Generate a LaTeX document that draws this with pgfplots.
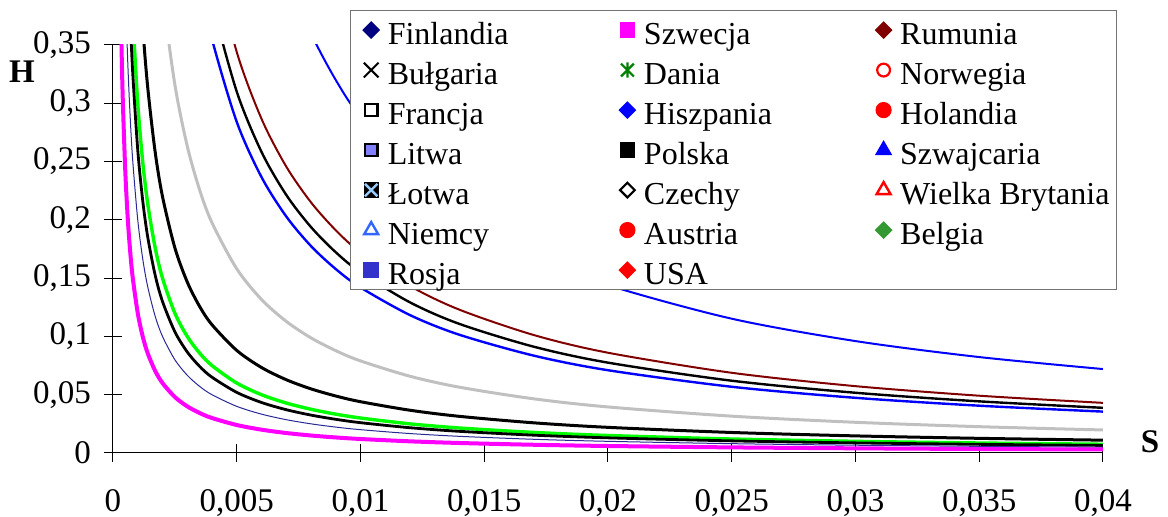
\documentclass[border=0pt]{standalone}
\usepackage{fontspec}
\setmainfont{Liberation Serif}
\usepackage{pgfplots}
\usepackage{pgfplotstable}
\pgfplotsset{compat=1.18}
\definecolor{cnavy}{RGB}{0,0,128}
\definecolor{cnavyline}{RGB}{40,40,150}
\definecolor{cmag}{RGB}{255,0,255}
\definecolor{cbrown}{RGB}{128,0,0}
\definecolor{cgreen}{RGB}{0,128,0}
\definecolor{clgreen}{RGB}{0,255,0}
\definecolor{cblue}{RGB}{0,0,255}
\definecolor{cred}{RGB}{255,0,0}
\definecolor{clilac}{RGB}{128,128,255}
\definecolor{cskyx}{RGB}{153,204,255}
\definecolor{cniem}{RGB}{51,102,255}
\definecolor{cbelg}{RGB}{51,153,51}
\definecolor{cros}{RGB}{51,51,204}
\definecolor{cgray}{RGB}{192,192,192}
\pgfplotsset{legmark/.style={only marks, legend image code/.code={\path (-3.5pt,0pt) (11pt,0pt); \draw[mark repeat=2,mark phase=2,##1] plot coordinates {(0pt,0pt)(4.5pt,0pt)(9pt,0pt)};}},
  dia/.style={legmark, mark=square*, mark options={rotate=45, mark size=2.85pt}}}
\pgfplotstableread{
S h1 h2 h3 h4 h5 h6 h7 h8 h9 h10
0.0003 0.4 0.6667 0.8667 1.0 1.467 2.633 4.733 5.167 5.733 9.6
0.00035 0.3429 0.5714 0.7429 0.8571 1.257 2.257 4.057 4.429 4.914 8.229
0.0004 0.3 0.5 0.65 0.75 1.1 1.975 3.55 3.875 4.3 7.2
0.0005 0.24 0.4 0.52 0.6 0.88 1.58 2.84 3.1 3.44 5.76
0.0006 0.2 0.3333 0.4333 0.5 0.7333 1.317 2.367 2.583 2.867 4.8
0.0007 0.1714 0.2857 0.3714 0.4286 0.6286 1.129 2.029 2.214 2.457 4.114
0.0008 0.15 0.25 0.325 0.375 0.55 0.9875 1.775 1.9375 2.15 3.6
0.001 0.12 0.2 0.26 0.3 0.44 0.79 1.42 1.55 1.72 2.88
0.0012 0.1 0.1667 0.2167 0.25 0.3667 0.6583 1.183 1.292 1.433 2.4
0.0014 0.08571 0.1429 0.1857 0.2143 0.3143 0.5643 1.014 1.107 1.229 2.057
0.0017 0.07059 0.1176 0.1529 0.1765 0.2588 0.4647 0.8353 0.9118 1.012 1.694
0.002 0.06 0.1 0.13 0.15 0.22 0.395 0.71 0.775 0.86 1.44
0.0025 0.048 0.08 0.104 0.12 0.176 0.316 0.568 0.62 0.688 1.152
0.003 0.04 0.06667 0.08667 0.1 0.1467 0.2633 0.4733 0.5167 0.5733 0.96
0.0035 0.03429 0.05714 0.07429 0.08571 0.1257 0.2257 0.4057 0.4429 0.4914 0.8229
0.004 0.03 0.05 0.065 0.075 0.11 0.1975 0.355 0.3875 0.43 0.72
0.005 0.024 0.04 0.052 0.06 0.088 0.158 0.284 0.31 0.344 0.576
0.006 0.02 0.03333 0.04333 0.05 0.07333 0.1317 0.2367 0.2583 0.2867 0.48
0.007 0.01714 0.02857 0.03714 0.04286 0.06286 0.1129 0.2029 0.2214 0.2457 0.4114
0.008 0.015 0.025 0.0325 0.0375 0.055 0.09875 0.1775 0.1938 0.215 0.36
0.009 0.01333 0.02222 0.02889 0.03333 0.04889 0.08778 0.1578 0.1722 0.1911 0.32
0.01 0.012 0.02 0.026 0.03 0.044 0.079 0.142 0.155 0.172 0.288
0.012 0.01 0.01667 0.02167 0.025 0.03667 0.06583 0.1183 0.1292 0.1433 0.24
0.014 0.008571 0.01429 0.01857 0.02143 0.03143 0.05643 0.1014 0.1107 0.1229 0.2057
0.017 0.007059 0.01176 0.01529 0.01765 0.02588 0.04647 0.08353 0.09118 0.1012 0.1694
0.02 0.006 0.01 0.013 0.015 0.022 0.0395 0.071 0.0775 0.086 0.144
0.025 0.0048 0.008 0.0104 0.012 0.0176 0.0316 0.0568 0.062 0.0688 0.1152
0.03 0.004 0.006667 0.008667 0.01 0.01467 0.02633 0.04733 0.05167 0.05733 0.096
0.035 0.003429 0.005714 0.007429 0.008571 0.01257 0.02257 0.04057 0.04429 0.04914 0.08229
0.04 0.003 0.005 0.0065 0.0075 0.011 0.01975 0.0355 0.03875 0.043 0.072
}\curves
\begin{document}
\begin{tikzpicture}
\begin{axis}[
  width=495pt, height=204pt, scale only axis,
  xmin=0, xmax=0.04, ymin=0, ymax=0.35,
  axis lines*=left,
  axis line style={black, line width=0.5pt},
  tick align=center, major tick length=9pt,
  tick style={black, line width=0.5pt},
  xtick={0,0.005,0.01,0.015,0.02,0.025,0.03,0.035,0.04},
  ytick={0,0.05,0.1,0.15,0.2,0.25,0.3,0.35},
  scaled x ticks=false, scaled y ticks=false,
  /pgf/number format/.cd, use comma, fixed, precision=3, assume math mode=true, /pgfplots/.cd,
  tick label style={font=\fontsize{16.5}{19}\selectfont},
  xticklabel style={yshift=-10pt},
  yticklabel style={xshift=-3pt},
  xlabel={S}, ylabel={H},
  label style={font=\bfseries\fontsize{16.5}{19}\selectfont},
  xlabel style={at={(axis description cs:1.0475,0.027)}, anchor=center},
  ylabel style={at={(axis description cs:-0.0919,0.934)}, anchor=center, rotate=-90},
  legend columns=3,
  legend cell align=left,
  legend style={at={(axis description cs:0.2394,1.0858)}, anchor=north west,
    draw=black!55, line width=0.6pt, fill=white,
    font=\fontsize{16}{19}\selectfont,
    inner xsep=2pt, inner ysep=0.5pt, column sep=0pt, row sep=1.5pt,
    nodes={text height=15.5pt, text depth=1pt, inner ysep=1pt, inner xsep=1.5pt},
    /tikz/column 2/.append style={text width=110pt},
    /tikz/column 4/.append style={text width=110pt}},
  clip=true,
]
\addlegendimage{dia, color=cnavy}
\addlegendentry{Finlandia}
\addlegendimage{legmark, mark=square*, color=cmag, mark options={mark size=3.6pt}}
\addlegendentry{Szwecja}
\addlegendimage{dia, color=cbrown}
\addlegendentry{Rumunia}
\addlegendimage{legmark, mark=x, color=black, mark options={mark size=5.2pt, line width=1pt}}
\addlegendentry{Bułgaria}
\addlegendimage{legend image code/.code={\path (-3.5pt,0pt) (11pt,0pt); \draw[cgreen, line width=1.1pt] (1.3pt,-3.2pt)--(7.7pt,3.2pt) (1.3pt,3.2pt)--(7.7pt,-3.2pt) (4.5pt,-3.8pt)--(4.5pt,3.8pt);}}
\addlegendentry{Dania}
\addlegendimage{legmark, mark=o, color=cred, mark options={fill=white, line width=1.1pt, mark size=3.2pt}}
\addlegendentry{Norwegia}
\addlegendimage{legmark, mark=square, color=black, mark options={fill=white, line width=1.1pt, mark size=3.1pt}}
\addlegendentry{Francja}
\addlegendimage{dia, color=cblue}
\addlegendentry{Hiszpania}
\addlegendimage{legmark, mark=*, color=cred, mark options={mark size=3.75pt}}
\addlegendentry{Holandia}
\addlegendimage{legmark, mark=square*, mark options={line width=1.1pt, draw=black, fill=clilac, mark size=3.1pt}}
\addlegendentry{Litwa}
\addlegendimage{legmark, mark=square*, color=black, mark options={mark size=3.5pt}}
\addlegendentry{Polska}
\addlegendimage{legmark, mark=triangle*, color=cblue, mark options={mark size=4.4pt}}
\addlegendentry{Szwajcaria}
\addlegendimage{legend image code/.code={\path (-3.5pt,0pt) (11pt,0pt); \fill[black] (1pt,-3.5pt) rectangle (8pt,3.5pt); \draw[cskyx, line width=1.2pt] (1.4pt,-3.1pt)--(7.6pt,3.1pt) (1.4pt,3.1pt)--(7.6pt,-3.1pt);}}
\addlegendentry{Łotwa}
\addlegendimage{legmark, mark=square, color=black, mark options={rotate=45, fill=white, line width=1.1pt, mark size=2.6pt}}
\addlegendentry{Czechy}
\addlegendimage{legmark, mark=triangle, color=cred, mark options={fill=white, line width=1.2pt, mark size=4pt}}
\addlegendentry{Wielka Brytania}
\addlegendimage{legmark, mark=triangle, color=cniem, mark options={fill=white, line width=1.2pt, mark size=4pt}}
\addlegendentry{Niemcy}
\addlegendimage{legmark, mark=*, color=cred, mark options={mark size=3.75pt}}
\addlegendentry{Austria}
\addlegendimage{dia, color=cbelg}
\addlegendentry{Belgia}
\addlegendimage{legmark, mark=square*, color=cros, mark options={mark size=3.6pt}}
\addlegendentry{Rosja}
\addlegendimage{dia, color=cred}
\addlegendentry{USA}
\addplot[forget plot, no markers, smooth, cblue, line width=1pt] table[x=S,y=h10]{\curves};
\addplot[forget plot, no markers, smooth, cbrown, line width=1pt] table[x=S,y=h9]{\curves};
\addplot[forget plot, no markers, smooth, black, line width=1.2pt] table[x=S,y=h8]{\curves};
\addplot[forget plot, no markers, smooth, cblue, line width=1.2pt] table[x=S,y=h7]{\curves};
\addplot[forget plot, no markers, smooth, cgray, line width=1.5pt] table[x=S,y=h6]{\curves};
\addplot[forget plot, no markers, smooth, black, line width=1.5pt] table[x=S,y=h5]{\curves};
\addplot[forget plot, no markers, smooth, clgreen, line width=1.7pt] table[x=S,y=h4]{\curves};
\addplot[forget plot, no markers, smooth, black, line width=1.4pt] table[x=S,y=h3]{\curves};
\addplot[forget plot, no markers, smooth, cnavyline, line width=0.5pt] table[x=S,y=h2]{\curves};
\addplot[forget plot, no markers, smooth, cmag, line width=2pt] table[x=S,y=h1]{\curves};
\end{axis}
\pgfresetboundingbox
\useasboundingbox (-56.5pt,-32pt) rectangle (527.5pt,226.5pt);
\end{tikzpicture}
\end{document}
